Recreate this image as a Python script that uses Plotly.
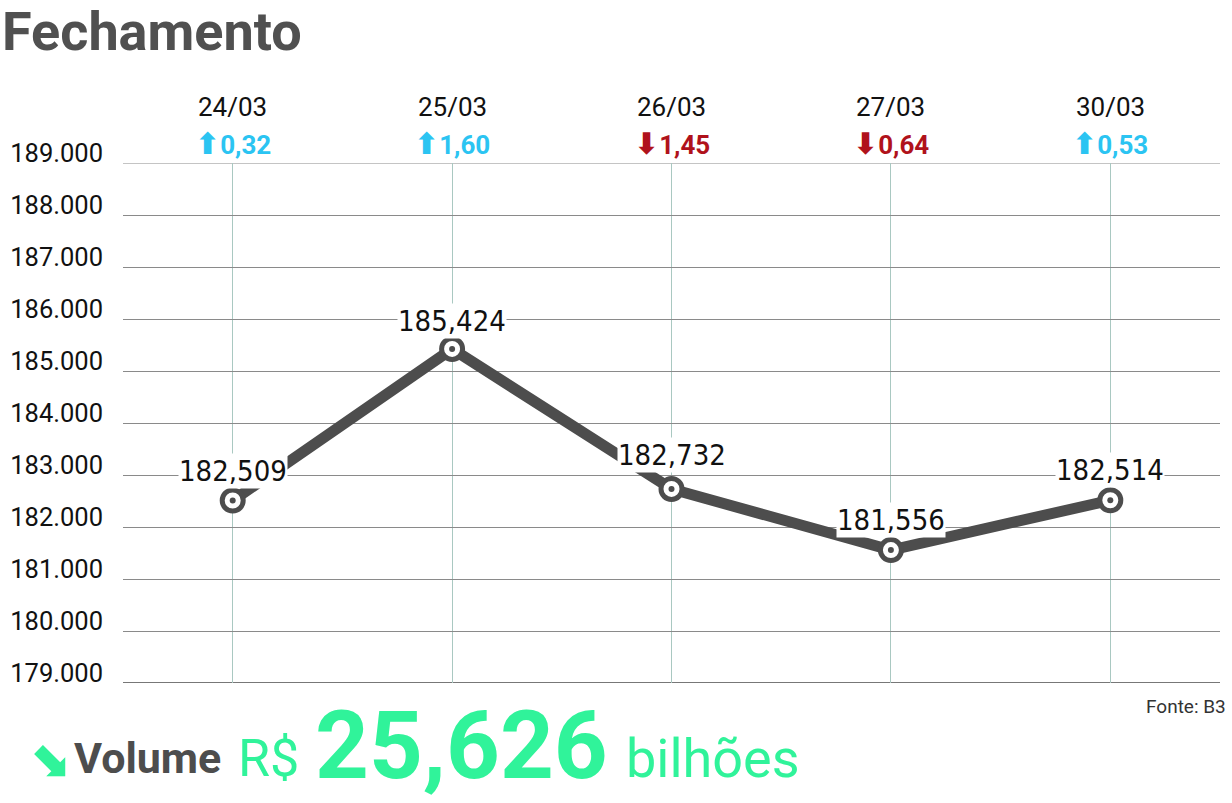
import plotly.graph_objects as go

dates = ["24/03", "25/03", "26/03", "27/03", "30/03"]
closes = [182509, 185424, 182732, 181556, 182514]
close_labels = ["182,509", "185,424", "182,732", "181,556", "182,514"]
changes = ["0,32", "1,60", "1,45", "0,64", "0,53"]
directions = ["up", "up", "down", "down", "up"]
y_ticks = [179000, 180000, 181000, 182000, 183000, 184000, 185000, 186000, 187000, 188000, 189000]
y_tick_text = ["179.000", "180.000", "181.000", "182.000", "183.000", "184.000",
               "185.000", "186.000", "187.000", "188.000", "189.000"]
volume_value = "25,626"

UP = "#2bc4f2"
DOWN = "#b0121b"
GREEN = "#30f39a"
DARK = "#4d4d4d"

L, T, R, B = 123, 163, 12, 120
W, H = 1232, 803
PH = H - T - B

x = list(range(len(dates)))

fig = go.Figure()
fig.add_trace(go.Scatter(x=x, y=closes, mode="lines",
                         line=dict(color=DARK, width=11), hoverinfo="skip"))
fig.add_trace(go.Scatter(x=x, y=closes, mode="markers",
                         marker=dict(size=21, color="white", line=dict(color=DARK, width=5)),
                         hoverinfo="skip"))
fig.add_trace(go.Scatter(x=x, y=closes, mode="markers",
                         marker=dict(size=6, color=DARK), hoverinfo="skip"))

ann = []
label_offsets = [30, 28, 34, 30, 30]
for i, (v, t) in enumerate(zip(closes, close_labels)):
    ann.append(dict(x=i, y=v, xref="x", yref="y", text=t, showarrow=False,
                    yshift=label_offsets[i], bgcolor="white", borderpad=0,
                    font=dict(family="Liberation Sans Narrow, DejaVu Sans Condensed, Roboto",
                              size=29, color="#111")))
for i, (d, c, dr) in enumerate(zip(dates, changes, directions)):
    ann.append(dict(x=i, y=1 + (T - 107) / PH, xref="x", yref="paper", text=d, showarrow=False,
                    yanchor="middle",
                    font=dict(family="Roboto", size=26, color="#111")))
    col = UP if dr == "up" else DOWN
    arrow = "⬆" if dr == "up" else "⬇"
    ann.append(dict(x=i, y=1 + (T - 144) / PH, xref="x", yref="paper",
                    text=f"<span style='font-family:DejaVu Sans;font-size:30px'><b>{arrow}</b></span><b>{c}</b>",
                    showarrow=False, yanchor="middle",
                    font=dict(family="Roboto", size=26, color=col)))

ann.append(dict(x=0, y=1 + (T - 31) / PH, xref="paper", yref="paper", text="<b>Fechamento</b>",
                showarrow=False, xanchor="left", yanchor="middle", xshift=-L,
                font=dict(family="Roboto", size=54, color="#505050")))
ann.append(dict(x=1.0, y=0, xref="paper", yref="paper", text="Fonte: B3", showarrow=False,
                xanchor="right", yanchor="middle", yshift=-(706 - (H - B)), xshift=8,
                font=dict(family="Roboto", size=19, color="#333")))
fig.update_layout(annotations=ann)


def bottom(text, px, py, size, color, family="Roboto"):
    fig.add_annotation(x=0, y=0, xref="paper", yref="paper", text=text, showarrow=False,
                       xanchor="left", yanchor="middle", xshift=px - L, yshift=-(py - (H - B)),
                       font=dict(family=family, size=size, color=color))


bottom("<b>⬊</b>", 26, 758, 50, GREEN, "DejaVu Sans")
bottom("<b>Volume</b>", 72, 758, 43, DARK)
bottom("R$", 236, 758, 52, GREEN)
bottom(f"<b>{volume_value}</b>", 313, 746, 94, GREEN)
bottom("bilhões", 624, 758, 54, GREEN)

fig.update_layout(
    width=W, height=H,
    margin=dict(l=L, r=R, t=T, b=B),
    paper_bgcolor="white", plot_bgcolor="white",
    showlegend=False,
    xaxis=dict(range=[-0.5, 4.5], showgrid=True, gridcolor="#a9c8c1", gridwidth=1,
               tickvals=x, showticklabels=False, zeroline=False, ticks="", automargin=False),
    yaxis=dict(range=[179000, 189000], tickvals=y_ticks, ticktext=y_tick_text,
               showgrid=True, gridcolor="#8a8a8a", gridwidth=1, zeroline=False,
               ticks="", ticklabelstandoff=19, ticklabelshift=-10, automargin=False,
               tickfont=dict(family="Roboto", size=25.5, color="#111")),
)
fig.add_shape(type="line", xref="paper", yref="y", x0=0, x1=1, y0=179000, y1=179000,
              line=dict(color="#777", width=2), layer="below")
fig.add_shape(type="line", xref="paper", yref="y", x0=0, x1=1, y0=189000, y1=189000,
              line=dict(color="#8a8a8a", width=1), layer="below")

fig.write_html("out.html", config={"displayModeBar": False},
               post_script="document.body.style.margin='0';")
